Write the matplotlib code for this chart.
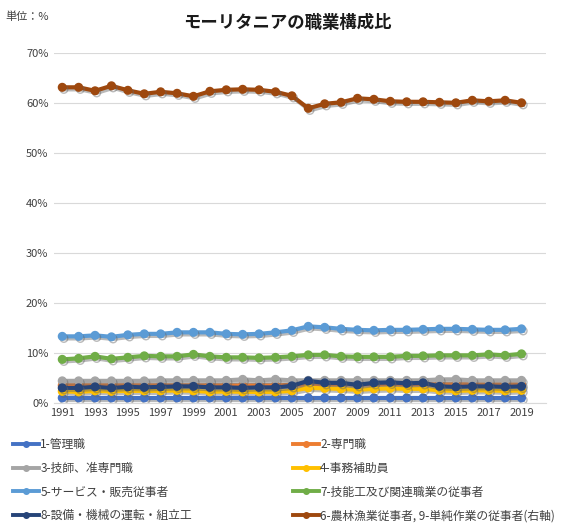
import matplotlib
matplotlib.use('Agg')
import matplotlib.pyplot as plt
import matplotlib.patheffects as pe
from matplotlib.lines import Line2D
from matplotlib.ticker import PercentFormatter

plt.rcParams['font.family'] = ['Noto Sans CJK JP', 'DejaVu Sans']

# Data (percent)
years = list(range(1991, 2020))
managers = [1.0, 1.0, 1.0, 1.0, 1.0, 1.0, 1.0, 1.0, 1.0, 1.0, 1.0, 1.0, 1.0, 1.0, 1.0,
            1.0, 1.0, 1.0, 1.0, 1.0, 1.0, 1.0, 1.0, 1.0, 1.0, 1.0, 1.0, 1.0, 1.0]
professionals = [3.5, 3.5, 3.5, 3.5, 3.5, 3.5, 3.5, 3.5, 3.5, 3.5, 3.5, 3.5, 3.5, 3.5, 3.6,
                 3.7, 3.7, 3.7, 3.7, 3.7, 3.7, 3.7, 3.7, 3.7, 3.7, 3.7, 3.7, 3.7, 3.7]
technicians = [4.4, 4.4, 4.4, 4.4, 4.4, 4.4, 4.5, 4.5, 4.5, 4.5, 4.5, 4.7, 4.5, 4.7, 4.5,
               4.5, 4.5, 4.5, 4.5, 4.5, 4.5, 4.5, 4.5, 4.7, 4.7, 4.5, 4.5, 4.5, 4.5]
clerical = [2.3, 2.2, 2.4, 2.3, 2.4, 2.4, 2.4, 2.5, 2.4, 2.2, 2.3, 2.2, 2.2, 2.2, 2.4,
            3.0, 2.9, 2.8, 2.6, 2.8, 2.9, 2.8, 2.8, 2.5, 2.4, 2.5, 2.5, 2.4, 2.5]
service = [13.3, 13.3, 13.5, 13.2, 13.6, 13.8, 13.8, 14.1, 14.1, 14.1, 13.8, 13.7, 13.8, 14.1, 14.5,
           15.3, 15.1, 14.8, 14.6, 14.5, 14.6, 14.6, 14.7, 14.8, 14.8, 14.7, 14.6, 14.6, 14.8]
craft = [8.7, 8.9, 9.3, 8.8, 9.1, 9.4, 9.3, 9.3, 9.7, 9.3, 9.1, 9.1, 9.0, 9.1, 9.3,
         9.6, 9.6, 9.3, 9.2, 9.2, 9.2, 9.4, 9.4, 9.5, 9.5, 9.5, 9.7, 9.5, 9.8]
operators = [3.0, 3.0, 3.2, 3.0, 3.2, 3.1, 3.2, 3.3, 3.3, 3.1, 3.1, 3.0, 3.1, 3.1, 3.4,
             4.4, 4.0, 4.0, 3.6, 4.0, 4.1, 3.9, 4.0, 3.3, 3.2, 3.3, 3.3, 3.2, 3.3]
agri_elementary = [63.1, 63.1, 62.4, 63.4, 62.5, 61.8, 62.2, 61.9, 61.3, 62.3, 62.6, 62.7, 62.6, 62.2, 61.4,
                   58.9, 59.8, 60.1, 60.9, 60.7, 60.3, 60.2, 60.2, 60.1, 60.0, 60.5, 60.3, 60.5, 60.0]

series = [
    ('1-管理職', managers, '#4472C4'),
    ('2-専門職', professionals, '#ED7D31'),
    ('3-技師、准専門職', technicians, '#A5A5A5'),
    ('4-事務補助員', clerical, '#FFC000'),
    ('5-サービス・販売従事者', service, '#5B9BD5'),
    ('7-技能工及び関連職業の従事者', craft, '#70AD47'),
    ('8-設備・機械の運転・組立工', operators, '#264478'),
    ('6-農林漁業従事者, 9-単純作業の従事者(右軸)', agri_elementary, '#9E480E'),
]

fig = plt.figure(figsize=(5.63, 5.28), dpi=100)
ax = fig.add_axes([0.096, 0.237, 0.874, 0.663])

shadow = [pe.SimpleLineShadow(offset=(1.2, -1.5), shadow_color='#666666', alpha=0.45), pe.Normal()]
handles = {}
for label, vals, color in series:
    ax.plot(years, vals, color=color, lw=3, marker='o', ms=5.5, path_effects=shadow)
    handles[label] = Line2D([], [], color=color, lw=2.8, marker='o', ms=4)

ax.set_xlim(1990.5, 2020.5)
ax.set_ylim(0, 70)
ax.set_yticks(range(0, 71, 10))
ax.yaxis.set_major_formatter(PercentFormatter(decimals=0))
ax.set_xticks(years[::2])
ax.tick_params(axis='both', length=0, labelsize=8, colors='#404040', pad=4)
ax.grid(axis='y', color='#D9D9D9', lw=0.8)
ax.set_axisbelow(True)
for side in ['top', 'right', 'left']:
    ax.spines[side].set_visible(False)
ax.spines['bottom'].set_color('#D9D9D9')

fig.text(0.51, 0.957, 'モーリタニアの職業構成比', ha='center', va='center',
         fontsize=12.5, fontweight='bold', color='#1a1a1a')
fig.text(0.01, 0.968, '単位：%', ha='left', va='center', fontsize=8, color='#404040')

left_labels = ['1-管理職', '3-技師、准専門職', '5-サービス・販売従事者', '8-設備・機械の運転・組立工']
right_labels = ['2-専門職', '4-事務補助員', '7-技能工及び関連職業の従事者',
                '6-農林漁業従事者, 9-単純作業の従事者(右軸)']
for labels, x0 in [(left_labels, 0.015), (right_labels, 0.512)]:
    fig.legend([handles[l] for l in labels], labels, loc='upper left',
               bbox_to_anchor=(x0, 0.179), frameon=False, fontsize=8.5,
               handlelength=2.2, handletextpad=0.1, labelspacing=0.9,
               borderaxespad=0, labelcolor='#404040')

fig.savefig('out.png', dpi=100)
